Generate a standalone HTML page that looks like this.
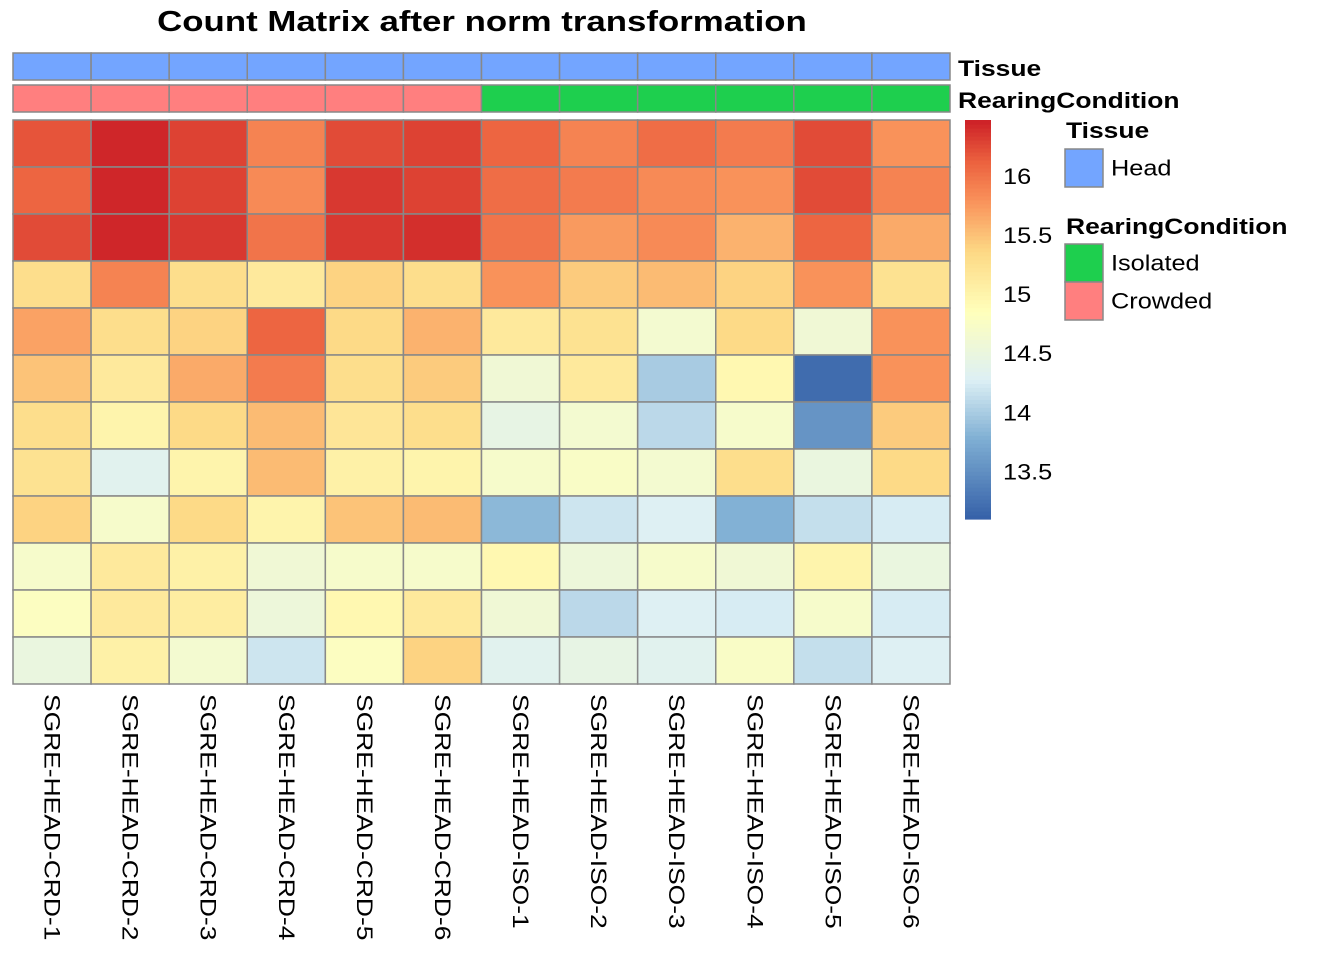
<!DOCTYPE html>
<html><head><meta charset="utf-8"><style>
body{margin:0;background:#fff;}
svg{display:block;font-family:"Liberation Sans",Arial,sans-serif;}
</style></head><body>
<svg id="chart" width="1344" height="960" viewBox="0 0 1344 960">
<text id="title" x="482" y="31" text-anchor="middle" font-size="29" font-weight="bold">Count Matrix after norm transformation</text>
</svg>
<script>
const samples=["SGRE-HEAD-CRD-1","SGRE-HEAD-CRD-2","SGRE-HEAD-CRD-3","SGRE-HEAD-CRD-4","SGRE-HEAD-CRD-5","SGRE-HEAD-CRD-6","SGRE-HEAD-ISO-1","SGRE-HEAD-ISO-2","SGRE-HEAD-ISO-3","SGRE-HEAD-ISO-4","SGRE-HEAD-ISO-5","SGRE-HEAD-ISO-6"];
const tissue=["Head","Head","Head","Head","Head","Head","Head","Head","Head","Head","Head","Head"];
const rearing=["Crowded","Crowded","Crowded","Crowded","Crowded","Crowded","Isolated","Isolated","Isolated","Isolated","Isolated","Isolated"];
const row1=[16.2,16.45,16.3,15.9,16.25,16.3,16.1,15.9,16.05,15.95,16.25,15.8];
const row2=[16.1,16.45,16.3,15.85,16.35,16.3,16.05,15.95,15.85,15.8,16.25,15.9];
const row3=[16.25,16.45,16.35,16.0,16.35,16.4,16.0,15.75,15.85,15.6,16.1,15.65];
const row4=[15.3,15.9,15.3,15.15,15.4,15.3,15.8,15.45,15.55,15.4,15.8,15.25];
const row5=[15.7,15.3,15.4,16.1,15.35,15.6,15.15,15.25,14.65,15.35,14.6,15.8];
const row6=[15.5,15.15,15.65,15.95,15.3,15.45,14.6,15.15,14.0,14.95,13.2,15.8];
const row7=[15.3,15.0,15.35,15.55,15.2,15.3,14.45,14.65,14.1,14.7,13.55,15.45];
const row8=[15.25,14.35,15.0,15.55,15.05,15.0,14.7,14.75,14.65,15.3,14.5,15.35];
const row9=[15.4,14.7,15.35,15.0,15.5,15.55,13.85,14.2,14.3,13.8,14.15,14.25];
const row10=[14.7,15.15,15.05,14.6,14.7,14.7,14.95,14.55,14.7,14.6,15.0,14.5];
const row11=[14.8,15.15,15.1,14.55,14.95,15.15,14.6,14.1,14.3,14.25,14.7,14.25];
const row12=[14.5,15.05,14.65,14.2,14.8,15.4,14.35,14.45,14.35,14.75,14.15,14.3];
const matrix=[row1,row2,row3,row4,row5,row6,row7,row8,row9,row10,row11,row12];
const colorTicks=[13.5,14,14.5,15,15.5,16];
const vmin=13.1, vmax=16.48;

const NS="http://www.w3.org/2000/svg";
const svg=document.getElementById('chart');
function mk(t,a){const e=document.createElementNS(NS,t);for(const k in a)e.setAttribute(k,a[k]);svg.appendChild(e);return e;}
function widen(e,f){const w=e.getComputedTextLength();e.setAttribute('textLength',w*f);e.setAttribute('lengthAdjust','spacingAndGlyphs');}
const stopPos=[0,0.2,0.35,0.52,0.67,0.8,0.9,1];
const stopCol=["#3560A8","#7EAED3","#DDF0F5","#FFFFBB","#FDD985","#F9915A","#EB5F3E","#CC2027"];
function hex(h){return [1,3,5].map(i=>parseInt(h.substr(i,2),16));}
function color(v){let f=(v-vmin)/(vmax-vmin);f=Math.max(0,Math.min(1,f));let i=0;while(i<stopPos.length-2&&f>stopPos[i+1])i++;const t=(f-stopPos[i])/(stopPos[i+1]-stopPos[i]);const a=hex(stopCol[i]),b=hex(stopCol[i+1]);return "rgb("+a.map((c,k)=>Math.round(c+(b[k]-c)*t)).join(",")+")";}
const X0=13,X1=950,Y0=120,Y1=684;
const cw=(X1-X0)/samples.length, rh=(Y1-Y0)/matrix.length;
const xPos=i=>X0+i*cw, yPos=j=>Y0+j*rh;
const annCol={Head:"#73A5FF",Crowded:"#FF7F7F",Isolated:"#1ECF4E"};
widen(document.getElementById('title'),1.2);
samples.forEach((s,i)=>{
  let r=mk('rect',{x:xPos(i),y:53,width:cw,height:27,fill:annCol[tissue[i]],stroke:"#888",'stroke-width':1.5});
  
  
  r=mk('rect',{x:xPos(i),y:85,width:cw,height:27,fill:annCol[rearing[i]],stroke:"#888",'stroke-width':1.5});
  
  
  const tx=xPos(i)+cw/2, ty=694;
  const t=mk('text',{x:tx,y:ty,transform:`rotate(90 ${tx} ${ty})`,'font-size':22,'dominant-baseline':'central'});
  t.textContent=s;
  
  
  widen(t,1.2);
});
matrix.forEach((row,j)=>row.forEach((v,i)=>{
  const r=mk('rect',{x:xPos(i),y:yPos(j),width:cw,height:rh,fill:color(v),stroke:"#888",'stroke-width':1.5});
  
  
}));
let t=mk('text',{x:958,y:76,'font-size':22,'font-weight':'bold'});t.textContent="Tissue";


widen(t,1.2);
t=mk('text',{x:958,y:108,'font-size':22,'font-weight':'bold'});t.textContent="RearingCondition";


widen(t,1.2);
const CB0=120,CB1=519;
const cbY=v=>CB1-(v-vmin)/(vmax-vmin)*(CB1-CB0);
for(let k=0;k<100;k++){
  const v0=vmin+(vmax-vmin)*k/100, v1=vmin+(vmax-vmin)*(k+1)/100;
  const r=mk('rect',{x:965,y:cbY(v1),width:26,height:cbY(v0)-cbY(v1)+0.6,fill:color((v0+v1)/2)});
  
  
}
colorTicks.forEach(v=>{
  const tt=mk('text',{x:1003,y:cbY(v),'font-size':22,'dominant-baseline':'central'});
  tt.textContent=String(v);
  
  
  widen(tt,1.15);
});
function legTitle(txt,y,name){const e=mk('text',{x:1066,y:y,'font-size':22,'font-weight':'bold'});e.textContent=txt;


widen(e,1.2);}
function legItem(txt,y,col){
  const r=mk('rect',{x:1065,y:y,width:38,height:38,fill:col,stroke:"#888",'stroke-width':1.5});
  
  
  const e=mk('text',{x:1111,y:y+19,'font-size':22,'dominant-baseline':'central'});e.textContent=txt;
  
  
  widen(e,1.15);
}
legTitle("Tissue",138,'tissue-legend-title');
legItem("Head",149,annCol.Head);
legTitle("RearingCondition",234,'rearing-legend-title');
legItem("Isolated",244,annCol.Isolated);
legItem("Crowded",282,annCol.Crowded);
</script>
</body></html>
